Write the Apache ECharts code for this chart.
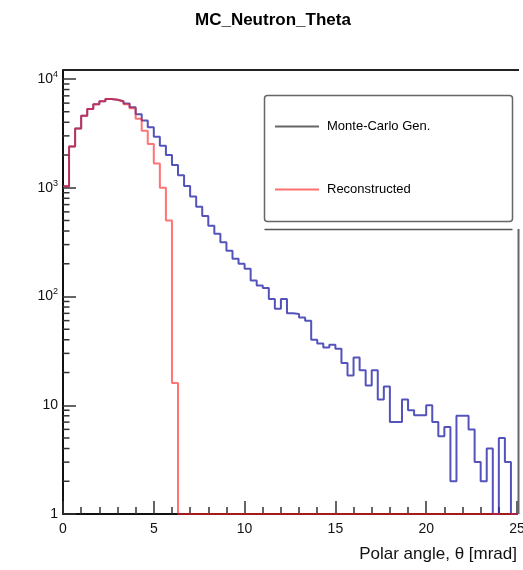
<!DOCTYPE html>
<html><head><meta charset="utf-8">
<script src="https://cdn.jsdelivr.net/npm/echarts@6/dist/echarts.min.js"></script>
<style>html,body{margin:0;padding:0;background:#fff}#c{width:523px;height:570px}</style>
</head><body><div id="c"></div>
<script>
// ---- data ----
const chartTitle = 'MC_Neutron_Theta';
const xAxisTitle = 'Polar angle, \u03b8 [mrad]';
const xMin = 0, xMax = 25, nBins = 75;
const xTickValues = [0, 5, 10, 15, 20, 25];
const yMin = 1, yMax = 12100;
const yTickValues = [1, 10, 100, 1000, 10000];
const yTickLabels = ['1', '10', '10{sup|2}', '10{sup|3}', '10{sup|4}'];
const yMinorMultipliers = [2, 3, 4, 5, 6, 7, 8, 9];
const yMinorDecades = [1, 10, 100, 1000];
const seriesNames = ['Monte-Carlo Gen.', 'Reconstructed'];

// counts per bin (bin width = 25/75 mrad); 0 = empty bin
const mcGen = [
  1030, 2400, 3500, 4600, 5300, 5850, 6250, 6550, 6450, 6250,
  5950, 5500, 4750, 4150, 3600, 2950, 2430, 2000, 1620, 1300,
  1040, 830, 670, 550, 448, 378, 315, 264, 222, 200,
  180, 140, 126, 120, 95, 77, 95, 70, 69, 64,
  60, 40, 37, 34, 36, 33, 24.5, 18.8, 27.5, 21,
  15.2, 21, 11.3, 14.9, 7, 7, 11.3, 9, 8.1, 8.1,
  10, 7, 5.2, 6.3, 2, 8, 8, 6, 3, 2,
  4, 0, 5, 3, 0
];
const reco = [
  1030, 2400, 3500, 4600, 5300, 5850, 6250, 6550, 6450, 6200,
  5850, 5380, 4300, 3350, 2520, 1670, 1000, 500, 16, 0,
  0, 0, 0, 0, 0, 0, 0, 0, 0, 0,
  0, 0, 0, 0, 0, 0, 0, 0, 0, 0,
  0, 0, 0, 0, 0, 0, 0, 0, 0, 0,
  0, 0, 0, 0, 0, 0, 0, 0, 0, 0,
  0, 0, 0, 0, 0, 0, 0, 0, 0, 0,
  0, 0, 0, 0, 0
];

// ---- build ----
const FONT = 'Liberation Sans, Arial, Helvetica, sans-serif';
const binW = (xMax - xMin) / nBins;
function histPoints(vals) {
  const pts = [];
  vals.forEach((v, i) => {
    const y = v > 0 ? v : yMin;
    pts.push([xMin + i * binW, y]);
    pts.push([xMin + (i + 1) * binW, y]);
  });
  return pts;
}
const minorVals = [];
yMinorDecades.forEach(d => yMinorMultipliers.forEach(m => { if (d * m < yMax) minorVals.push([xMin, d * m]); }));

const chart = echarts.init(document.getElementById('c'), null, {renderer: 'canvas'});
chart.setOption({
  animation: false,
  backgroundColor: '#fff',
  title: {
    text: chartTitle, left: 190, top: 7,
    textStyle: {fontFamily: FONT, fontSize: 17, fontWeight: 'bold', color: '#000'}
  },
  grid: {left: 63, right: 6, top: 70, bottom: 56, containLabel: false, outerBoundsMode: 'none'},
  legend: {
    orient: 'vertical', left: 274, top: 120, itemWidth: 44, itemHeight: 14, itemGap: 50,
    padding: 0, z: 20,
    data: [
      {name: seriesNames[0], lineStyle: {color: '#666', width: 2}, itemStyle: {color: 'rgba(0,0,0,0)', borderWidth: 0}},
      {name: seriesNames[1], lineStyle: {color: '#ff7070', width: 2}, itemStyle: {color: 'rgba(0,0,0,0)', borderWidth: 0}}
    ],
    textStyle: {fontFamily: FONT, fontSize: 13, color: '#000', padding: [0, 0, 0, 3]},
    selectedMode: false
  },
  xAxis: {
    type: 'value', min: xMin, max: xMax, interval: 5,
    axisLine: {show: true, onZero: false, lineStyle: {color: '#111', width: 2}},
    axisTick: {show: true, inside: true, length: 13, lineStyle: {color: '#333', width: 1.5}},
    minorTick: {show: true, splitNumber: 5, length: 7, lineStyle: {color: '#333', width: 1.5}},
    splitLine: {show: false},
    axisLabel: {
      fontFamily: FONT, fontSize: 14, color: '#111', margin: 8, hideOverlap: false,
      formatter: v => (xTickValues.indexOf(v) >= 0 ? String(v) : '')
    },
    name: xAxisTitle, nameLocation: 'end', nameGap: 0,
    nameTextStyle: {fontFamily: FONT, fontSize: 17, color: '#111', align: 'right', verticalAlign: 'top', padding: [32, 0, 0, 0]}
  },
  yAxis: {
    type: 'log', logBase: 10, min: yMin, max: yMax,
    axisLine: {show: true, onZero: false, lineStyle: {color: '#111', width: 2}},
    axisTick: {show: true, inside: true, length: 13, lineStyle: {color: '#333', width: 1.5}},
    splitLine: {show: false},
    axisLabel: {
      fontFamily: FONT, fontSize: 14, color: '#111', margin: 5,
      formatter: v => { const i = yTickValues.indexOf(Math.round(v)); return i >= 0 ? yTickLabels[i] : ''; },
      rich: {sup: {fontFamily: FONT, fontSize: 9, color: '#111', verticalAlign: 'top', padding: [0, 0, 9, 0]}}
    }
  },
  graphic: [
    {type: 'line', z: 1, shape: {x1: 63, y1: 70, x2: 519, y2: 70}, style: {stroke: '#222', lineWidth: 2}},
    {type: 'line', z: 1, shape: {x1: 518.5, y1: 229, x2: 518.5, y2: 514}, style: {stroke: '#666', lineWidth: 2}},
    {type: 'rect', z: 10, shape: {x: 264.5, y: 95.5, width: 248, height: 126, r: 3}, style: {fill: '#fff', stroke: '#666', lineWidth: 1.5}},
    {type: 'line', z: 10, shape: {x1: 264.5, y1: 229.5, x2: 512.5, y2: 229.5}, style: {stroke: '#555', lineWidth: 1.5}}
  ],
  series: [
    {
      type: 'custom', name: 'yminor', silent: true, z: 3, clip: false,
      data: minorVals,
      renderItem: (params, api) => {
        const p = api.coord([api.value(0), api.value(1)]);
        return {type: 'line', shape: {x1: p[0], y1: p[1], x2: p[0] + 6.5, y2: p[1]}, style: {stroke: '#333', lineWidth: 1.5}};
      }
    },
    {
      type: 'line', name: seriesNames[0], data: histPoints(mcGen), symbol: 'none', z: 4,
      lineStyle: {color: 'rgba(40,40,170,0.8)', width: 2}, itemStyle: {color: 'rgba(40,40,170,0.8)'}
    },
    {
      type: 'line', name: seriesNames[1], data: histPoints(reco), symbol: 'none', z: 5,
      lineStyle: {color: 'rgba(255,30,30,0.62)', width: 2}, itemStyle: {color: 'rgba(255,30,30,0.62)'}
    }
  ]
});
</script>
</body></html>
